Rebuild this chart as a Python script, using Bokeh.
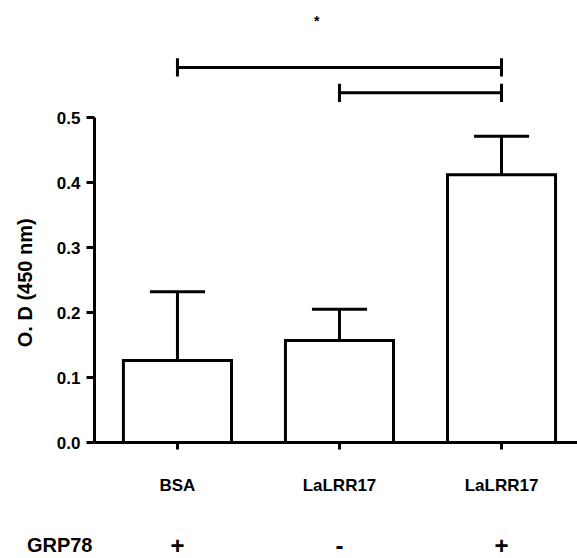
from bokeh.plotting import figure
from bokeh.models import FixedTicker, Range1d, ColumnDataSource
from bokeh.layouts import column
from bokeh.core.properties import value
from bokeh.embed import file_html
from bokeh.resources import INLINE

# ---- data ----
categories = ["BSA", "LaLRR17", "LaLRR17"]
grp78_label = "GRP78"
grp78 = ["+", "-", "+"]
x_pos = [1, 2, 3]
means = [0.126, 0.157, 0.412]
sds = [0.106, 0.048, 0.059]
y_ticks = [0.0, 0.1, 0.2, 0.3, 0.4, 0.5]
# significance brackets: start group, end group, height (O.D units)
brackets_x0 = [1, 2]
brackets_x1 = [3, 3]
brackets_y = [0.577, 0.538]
star_x = [1.86]
star_y = [0.649]
star_text = ["*"]

FONT = "Liberation Sans"
LW = 3
W = 577

x_range = Range1d(0.488, 3.469)

# ---- top strip: significance brackets ----
top = figure(width=W, height=107, output_backend="svg", toolbar_location=None,
             x_range=x_range, y_range=Range1d(0.5154, 0.68),
             x_axis_location=None, y_axis_location=None,
             min_border_left=94, min_border_right=0, min_border_top=0,
             min_border_bottom=0)
top.outline_line_color = None
top.grid.visible = False
tick_h = 0.014
bsrc = ColumnDataSource(dict(x0=brackets_x0, x1=brackets_x1, y=brackets_y,
                             ylo=[y - tick_h for y in brackets_y],
                             yhi=[y + tick_h for y in brackets_y]))
top.segment(x0="x0", y0="y", x1="x1", y1="y", source=bsrc, line_color="black", line_width=LW)
top.segment(x0="x0", y0="ylo", x1="x0", y1="yhi", source=bsrc, line_color="black", line_width=LW)
top.segment(x0="x1", y0="ylo", x1="x1", y1="yhi", source=bsrc, line_color="black", line_width=LW)
top.text(x=star_x, y=star_y, text=star_text, text_font=value(FONT),
         text_font_size="14px", text_font_style="bold", text_align="center",
         text_baseline="middle", text_color="black")

# ---- main bar chart ----
p = figure(width=W, height=423, output_backend="svg", toolbar_location=None,
           x_range=x_range, y_range=Range1d(0, 0.5),
           min_border_left=94, min_border_right=0, min_border_top=10,
           min_border_bottom=88)
p.outline_line_color = None
p.grid.visible = False

src = ColumnDataSource(dict(x=x_pos, top=means,
                            err=[m + s for m, s in zip(means, sds)],
                            cl=[x - 0.17 for x in x_pos],
                            cr=[x + 0.17 for x in x_pos]))
p.segment(x0="x", y0="top", x1="x", y1="err", source=src,
          line_color="black", line_width=LW)
p.segment(x0="cl", y0="err", x1="cr", y1="err", source=src,
          line_color="black", line_width=LW)
p.vbar(x="x", top="top", bottom=0, width=0.667, source=src,
       fill_color="white", line_color="black", line_width=LW,
       line_join="miter")

ya = p.yaxis[0]
ya.ticker = FixedTicker(ticks=y_ticks)
ya.major_label_overrides = {t: f"{t:.1f}" for t in y_ticks}
ya.minor_tick_line_color = None
ya.axis_line_width = LW
ya.major_tick_line_width = LW
ya.major_tick_out = 8
ya.major_tick_in = 0
ya.major_label_standoff = 6
ya.major_label_text_font = FONT
ya.major_label_text_font_style = "bold"
ya.major_label_text_font_size = "17px"
ya.major_label_text_color = "black"
ya.axis_label = "O. D  (450 nm)"
ya.axis_label_text_font = FONT
ya.axis_label_text_font_style = "bold"
ya.axis_label_text_font_size = "20px"
ya.axis_label_text_color = "black"
ya.axis_label_standoff = 18

xa = p.xaxis[0]
xa.ticker = FixedTicker(ticks=x_pos)
xa.major_label_overrides = {x: c for x, c in zip(x_pos, categories)}
xa.minor_tick_line_color = None
xa.axis_line_width = LW
xa.major_tick_line_width = LW
xa.major_tick_out = 7
xa.major_tick_in = 0
xa.major_label_standoff = 26
xa.major_label_text_font = FONT
xa.major_label_text_font_style = "bold"
xa.major_label_text_font_size = "17px"
xa.major_label_text_color = "black"

# ---- bottom strip: GRP78 row ----
bot = figure(width=W, height=28, output_backend="svg", toolbar_location=None,
             x_range=x_range, y_range=Range1d(0, 1),
             x_axis_location=None,
             min_border_left=94, min_border_right=0, min_border_top=0,
             min_border_bottom=0)
bot.outline_line_color = None
bot.grid.visible = False
by = bot.yaxis[0]
by.ticker = FixedTicker(ticks=[])
by.axis_line_color = None
by.major_tick_line_color = None
by.minor_tick_line_color = None
by.major_label_text_font_size = "0px"
by.axis_label = grp78_label
by.axis_label_orientation = "horizontal"
by.axis_label_standoff = 2
by.axis_label_text_font = FONT
by.axis_label_text_font_style = "bold"
by.axis_label_text_font_size = "20px"
by.axis_label_text_color = "black"
bot.text(x=x_pos, y=[0.45] * 3, text=grp78, text_font=value(FONT),
         text_font_size="24px", text_font_style="bold", text_align="center",
         text_baseline="middle", text_color="black")

layout = column(top, p, bot, spacing=0)
open("out.html", "w").write(file_html(layout, INLINE))
